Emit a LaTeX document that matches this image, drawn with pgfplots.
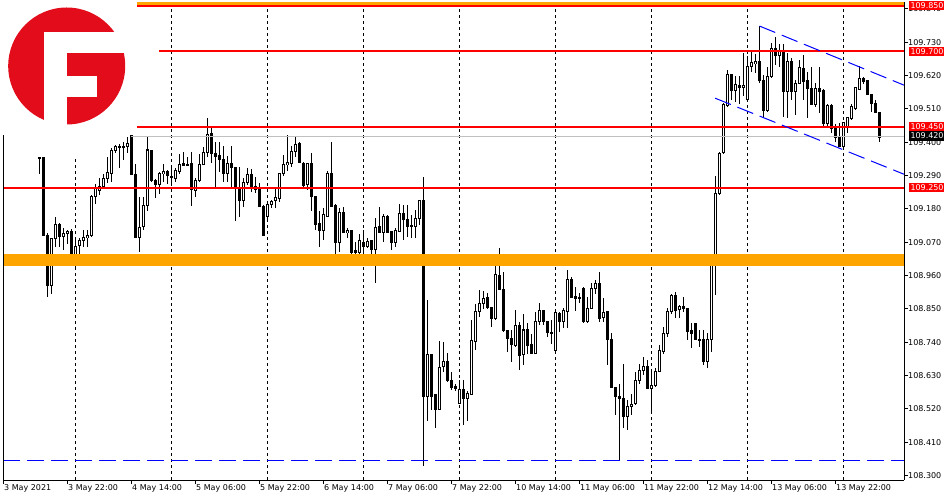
\documentclass[border=0pt]{standalone}
\usepackage{fontspec}
\setmainfont{DejaVu Sans}
\usepackage{pgfplots}
\usepackage{pgfplotstable}
\pgfplotsset{compat=1.18}
\definecolor{logored}{RGB}{226,12,27}
\definecolor{mtorange}{RGB}{255,165,0}
\definecolor{mtred}{RGB}{255,0,0}
\definecolor{mtblue}{RGB}{0,0,255}
\definecolor{mtgray}{RGB}{192,192,192}
\newcommand\tf{\fontsize{8bp}{9bp}\selectfont}
\pgfplotsset{candle/.style={only marks, mark=*, mark size=0pt, mark options={draw=none, fill=none},
  error bars/.cd, y dir=both, y explicit, error mark=none}}
\pgfplotstableread{
i o h l c
0 109.347 109.354 109.295 109.350
1 109.350 109.352 109.092 109.092
2 109.092 109.102 108.890 108.926
3 108.926 109.085 108.901 109.083
4 109.083 109.152 109.055 109.129
5 109.129 109.134 109.055 109.088
6 109.091 109.116 109.044 109.099
7 109.099 109.112 109.066 109.107
8 109.107 109.116 109.017 109.017
9 109.017 109.077 108.984 109.058
10 109.058 109.083 109.022 109.077
11 109.075 109.110 109.055 109.085
12 109.085 109.110 109.055 109.092
13 109.092 109.226 109.088 109.222
14 109.222 109.262 109.196 109.250
15 109.242 109.281 109.226 109.255
16 109.255 109.295 109.253 109.281
17 109.281 109.352 109.264 109.300
18 109.299 109.380 109.270 109.374
19 109.372 109.391 109.363 109.385
20 109.385 109.396 109.314 109.383
21 109.383 109.402 109.341 109.385
22 109.385 109.418 109.363 109.396
23 109.427 109.429 109.295 109.295
24 109.295 109.330 109.086 109.088
25 109.088 109.220 109.036 109.121
26 109.121 109.220 109.110 109.190
27 109.190 109.418 109.174 109.374
28 109.374 109.376 109.270 109.275
29 109.275 109.281 109.218 109.262
30 109.262 109.300 109.228 109.297
31 109.297 109.330 109.270 109.303
32 109.303 109.308 109.264 109.289
33 109.286 109.319 109.262 109.284
34 109.281 109.314 109.270 109.305
35 109.304 109.363 109.297 109.328
36 109.330 109.369 109.322 109.325
37 109.327 109.352 109.322 109.328
38 109.328 109.369 109.190 109.242
39 109.242 109.281 109.220 109.275
40 109.275 109.361 109.270 109.328
41 109.328 109.385 109.325 109.366
42 109.366 109.482 109.352 109.427
43 109.427 109.451 109.332 109.363
44 109.363 109.402 109.253 109.355
45 109.358 109.402 109.303 109.343
46 109.341 109.387 109.270 109.297
47 109.297 109.355 109.270 109.330
48 109.330 109.387 109.253 109.317
49 109.317 109.319 109.138 109.253
50 109.251 109.319 109.154 109.207
51 109.207 109.281 109.187 109.266
52 109.266 109.314 109.259 109.295
53 109.295 109.314 109.237 109.253
54 109.253 109.286 109.231 109.244
55 109.244 109.264 109.187 109.187
56 109.189 109.193 109.091 109.091
57 109.156 109.204 109.138 109.196
58 109.196 109.211 109.182 109.206
59 109.206 109.248 109.182 109.218
60 109.215 109.297 109.204 109.297
61 109.297 109.358 109.289 109.325
62 109.325 109.424 109.306 109.332
63 109.332 109.387 109.319 109.369
64 109.369 109.418 109.352 109.391
65 109.394 109.402 109.330 109.332
66 109.332 109.336 109.253 109.259
67 109.259 109.332 109.242 109.330
68 109.330 109.363 109.174 109.220
69 109.220 109.220 109.110 109.130
70 109.130 109.174 109.055 109.108
71 109.108 109.185 109.079 109.162
72 109.157 109.303 109.154 109.299
73 109.297 109.402 109.190 109.190
74 109.190 109.196 109.028 109.069
75 109.069 109.185 109.039 109.168
76 109.168 109.185 109.102 109.102
77 109.102 109.116 109.083 109.110
78 109.108 109.108 109.000 109.036
79 109.042 109.072 109.028 109.036
80 109.036 109.099 109.028 109.075
81 109.069 109.110 109.017 109.058
82 109.058 109.086 109.053 109.075
83 109.077 109.079 109.022 109.046
84 109.046 109.149 108.934 109.121
85 109.123 109.185 109.099 109.102
86 109.102 109.165 109.072 109.154
87 109.156 109.160 109.102 109.102
88 109.107 109.107 109.044 109.069
89 109.069 109.116 109.055 109.110
90 109.108 109.196 109.105 109.165
91 109.165 109.193 109.077 109.143
92 109.146 109.193 109.088 109.124
93 109.127 109.160 109.086 109.121
94 109.121 109.178 109.086 109.149
95 109.149 109.209 109.127 109.209
96 109.209 109.286 108.332 108.560
97 108.560 108.882 108.481 108.701
98 108.701 108.701 108.516 108.560
99 108.566 108.566 108.459 108.518
100 108.518 108.745 108.518 108.657
101 108.659 108.742 108.643 108.676
102 108.676 108.705 108.610 108.615
103 108.615 108.643 108.582 108.591
104 108.595 108.602 108.580 108.588
105 108.538 108.617 108.538 108.584
106 108.584 108.615 108.467 108.555
107 108.555 108.580 108.481 108.571
108 108.569 108.813 108.566 108.745
109 108.742 108.868 108.714 108.841
110 108.841 108.914 108.824 108.868
111 108.868 108.912 108.852 108.885
112 108.887 108.903 108.852 108.855
113 108.855 108.855 108.791 108.819
114 108.819 108.991 108.813 108.965
115 108.962 109.053 108.915 108.915
116 108.915 108.973 108.774 108.780
117 108.780 108.780 108.709 108.753
118 108.753 108.780 108.676 108.731
119 108.731 108.846 108.725 108.797
120 108.797 108.808 108.650 108.698
121 108.698 108.833 108.665 108.780
122 108.782 108.802 108.701 108.731
123 108.733 108.769 108.701 108.703
124 108.703 108.841 108.703 108.808
125 108.808 108.870 108.797 108.846
126 108.846 108.848 108.797 108.808
127 108.808 108.811 108.758 108.771
128 108.775 108.813 108.734 108.769
129 108.712 108.841 108.709 108.837
130 108.837 108.841 108.775 108.808
131 108.808 108.855 108.789 108.844
132 108.844 108.980 108.786 108.947
133 108.947 108.956 108.887 108.890
134 108.892 108.923 108.844 108.887
135 108.887 108.901 108.868 108.885
136 108.918 108.923 108.804 108.808
137 108.808 108.890 108.802 108.852
138 108.852 108.934 108.852 108.918
139 108.918 108.945 108.901 108.934
140 108.934 108.973 108.808 108.821
141 108.821 108.888 108.808 108.837
142 108.841 108.844 108.665 108.747
143 108.747 108.769 108.588 108.590
144 108.590 108.590 108.500 108.560
145 108.562 108.604 108.351 108.555
146 108.555 108.670 108.459 108.496
147 108.496 108.549 108.452 108.529
148 108.529 108.569 108.500 108.536
149 108.536 108.643 108.533 108.612
150 108.612 108.670 108.604 108.646
151 108.646 108.692 108.632 108.659
152 108.659 108.683 108.588 108.588
153 108.588 108.648 108.511 108.599
154 108.599 108.654 108.593 108.646
155 108.645 108.731 108.643 108.712
156 108.709 108.791 108.703 108.769
157 108.769 108.852 108.758 108.841
158 108.841 108.901 108.835 108.896
159 108.893 108.907 108.819 108.844
160 108.848 108.863 108.819 108.859
161 108.859 108.890 108.841 108.852
162 108.852 108.852 108.749 108.777
163 108.780 108.804 108.720 108.769
164 108.802 108.802 108.747 108.749
165 108.749 108.780 108.725 108.747
166 108.749 108.780 108.665 108.676
167 108.676 108.769 108.654 108.749
168 108.749 109.000 108.709 108.998
169 108.995 109.288 108.896 109.233
170 109.231 109.369 109.226 109.365
171 109.365 109.528 109.361 109.523
172 109.523 109.638 109.517 109.625
173 109.625 109.625 109.539 109.572
174 109.572 109.618 109.534 109.592
175 109.589 109.618 109.528 109.581
176 109.581 109.693 109.552 109.589
177 109.542 109.684 109.539 109.649
178 109.651 109.702 109.633 109.663
179 109.660 109.691 109.627 109.666
180 109.668 109.783 109.594 109.605
181 109.605 109.622 109.479 109.506
182 109.506 109.649 109.501 109.618
183 109.618 109.728 109.611 109.710
184 109.710 109.748 109.655 109.688
185 109.688 109.724 109.649 109.704
186 109.702 109.726 109.484 109.569
187 109.569 109.693 109.479 109.668
188 109.668 109.677 109.539 109.569
189 109.569 109.605 109.490 109.594
190 109.594 109.673 109.592 109.646
191 109.644 109.688 109.539 109.603
192 109.603 109.633 109.479 109.578
193 109.578 109.649 109.523 109.525
194 109.525 109.594 109.517 109.578
195 109.578 109.649 109.495 109.567
196 109.572 109.578 109.449 109.464
197 109.464 109.526 109.446 109.523
198 109.523 109.526 109.429 109.446
199 109.446 109.462 109.402 109.416
200 109.416 109.462 109.383 109.385
201 109.385 109.464 109.376 109.464
202 109.451 109.484 109.431 109.482
203 109.479 109.526 109.473 109.519
204 109.512 109.581 109.506 109.581
205 109.574 109.651 109.574 109.611
206 109.611 109.616 109.594 109.600
207 109.605 109.607 109.556 109.559
208 109.559 109.559 109.501 109.528
209 109.528 109.539 109.495 109.497
210 109.497 109.501 109.402 109.416
}\candles

\begin{document}
\begin{tikzpicture}
\useasboundingbox (0,0) rectangle (950bp,500bp);
\fill[white] (0,0) rectangle (950bp,500bp);
\begin{axis}[
  at={(3bp,20bp)}, anchor=south west,
  scale only axis, width=901bp, height=478bp,
  xmin=-9.125, xmax=216.125, ymin=108.285, ymax=109.8624,
  axis x line*=bottom, axis y line*=right,
  axis line style={-, black, line width=1bp},
  tick align=outside, major tick length=4bp,
  tick style={black, line width=1bp},
  minor tick num=0,
  xtick={-9,7,23,39,55,71,87,103,119,135,151,167,183,199},
  xticklabels={3 May 2021,3 May 22:00,4 May 14:00,5 May 06:00,5 May 22:00,6 May 14:00,7 May 06:00,7 May 22:00,10 May 14:00,11 May 06:00,11 May 22:00,12 May 14:00,13 May 06:00,13 May 22:00},
  xticklabel style={font=\tf, anchor=north west, inner sep=0pt, xshift=0.5bp},
  ytick={108.30,108.41,108.52,108.63,108.74,108.85,108.96,109.07,109.18,109.29,109.40,109.51,109.62,109.73,109.84},
  yticklabels={108.300,108.410,108.520,108.630,108.740,108.850,108.960,109.070,109.180,109.290,109.400,109.510,109.620,109.730,109.840},
  yticklabel style={font=\tf, anchor=west, inner sep=0pt},
]
% day separators
\addplot[black, line width=1bp, dash pattern=on 3bp off 3bp] coordinates {(9,108.285) (9,109.344)};
\pgfplotsinvokeforeach{33,57,81,105,129,153,177,201}{
  \addplot[black, line width=1bp, dash pattern=on 3bp off 3bp] coordinates {(#1,108.285) (#1,109.8624)};
}
% candles: wicks
\addplot[candle, error bar style={draw=black, line width=1bp}]
  table[x=i, y expr={(\thisrow{h}+\thisrow{l})/2}, y error expr={(\thisrow{h}-\thisrow{l})/2}] {\candles};
% bodies (outline / black)
\addplot[candle, error bar style={draw=black, line width=3bp}]
  table[x=i, y expr={(\thisrow{o}+\thisrow{c})/2}, y error expr={abs(\thisrow{c}-\thisrow{o})/2+0.00165}] {\candles};
% white interior of rising candles
\addplot[candle, error bar style={draw=white, line width=1bp}]
  table[x=i, y expr={(\thisrow{o}+\thisrow{c})/2}, y error expr={max(0,(\thisrow{c}-\thisrow{o})/2-0.00165)}] {\candles};
% objects
\addplot[mtorange, line width=11.8bp] coordinates {(-9.125,109.0115) (216.125,109.0115)};
\addplot[mtorange, line width=3bp] coordinates {(24.3,109.858) (216.125,109.858)};
\addplot[mtred, line width=2bp] coordinates {(24.3,109.850) (216.125,109.850)};
\addplot[mtred, line width=2bp] coordinates {(29.9,109.700) (216.125,109.700)};
\addplot[mtred, line width=2bp] coordinates {(24.3,109.450) (216.125,109.450)};
\addplot[mtred, line width=2bp] coordinates {(-9.125,109.250) (216.125,109.250)};
\addplot[mtgray, line width=1bp] coordinates {(22.9,109.420) (216.125,109.420)};
\addplot[mtblue, line width=1bp, dash pattern=on 17bp off 7bp] coordinates {(-9.125,108.350) (216.125,108.350)};
\addplot[mtblue, line width=1bp, dash pattern=on 17bp off 7bp] coordinates {(180,109.783) (216.125,109.588)};
\addplot[mtblue, line width=1bp, dash pattern=on 17bp off 7bp] coordinates {(168.9,109.545) (216.125,109.294)};
% logo background
\fill[white] (axis cs:-20,109.4235) rectangle (axis cs:24.3,110);
\end{axis}
% left frame line
\draw[black, line width=1bp] (3bp,20bp) -- (3bp,365bp);
% price labels
\foreach \v/\yc/\col in {109.850/494.24/mtred, 109.700/448.79/mtred, 109.450/373.03/mtred, 109.420/363.94/black, 109.250/312.42/mtred}{
  \fill[\col] (909bp,\yc bp-4.7bp) rectangle (943.5bp,\yc bp+4.7bp);
  \node[anchor=west, inner sep=0pt, text=white, font=\tf] at (910.3bp,\yc bp) {\v};
}
% logo
\fill[logored] (66.7bp,434bp) circle (58.5bp);
\fill[white] (44bp,370bp) rectangle (67bp,468.3bp);
\fill[white] (44bp,446.7bp) rectangle (135bp,468.3bp);
\fill[white] (66.7bp,403.3bp) rectangle (96.7bp,424bp);
\end{tikzpicture}
\end{document}
